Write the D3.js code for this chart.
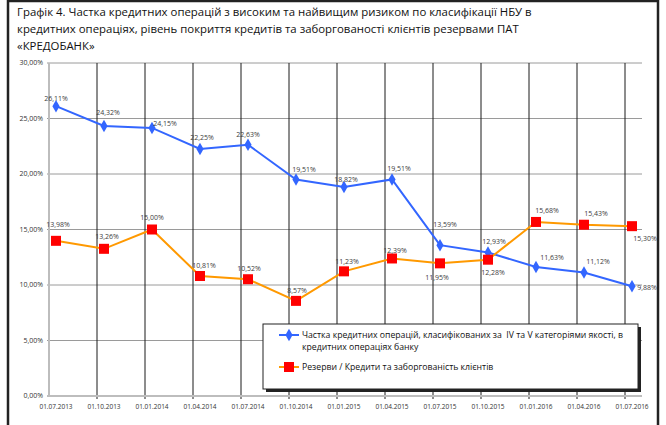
<!DOCTYPE html>
<html>
<head>
<meta charset="utf-8">
<title>Графік 4</title>
<script src="https://cdn.jsdelivr.net/npm/d3@7"></script>
<style>
    body { margin: 0; background: #fff; }
    svg text { font-family: "Open Sans", Arial, sans-serif; }
    .legend-text { white-space: pre; }
</style>
</head>
<body>
<script>
    // data
    var dates = ["01.07.2013", "01.10.2013", "01.01.2014", "01.04.2014", "01.07.2014", "01.10.2014",
        "01.01.2015", "01.04.2015", "01.07.2015", "01.10.2015", "01.01.2016", "01.04.2016", "01.07.2016"];
    var shareHighRisk = [26.11, 24.32, 24.15, 22.25, 22.63, 19.51, 18.82, 19.51, 13.59, 12.93, 11.63, 11.12, 9.88];
    var reserveCoverage = [13.98, 13.26, 15.00, 10.81, 10.52, 8.57, 11.23, 12.39, 11.95, 12.28, 15.68, 15.43, 15.30];
    var yTicks = [0, 5, 10, 15, 20, 25, 30];
    var titleLines = [
        "Графік 4. Частка кредитних операцій з високим та найвищим ризиком по класифікації НБУ в",
        "кредитних операціях, рівень покриття кредитів та заборгованості клієнтів резервами ПАТ",
        "«КРЕДОБАНК»"
    ];
    var seriesNames = [
        ["Частка кредитних операцій, класифікованих за  IV та V категоріями якості, в", "кредитних операціях банку"],
        ["Резерви / Кредити та заборгованість клієнтів"]
    ];

    // label placement around each point (dx, dy)
    var blueLabelShift = [[0,-8],[4,-13],[13,-4],[2,-11],[0,-10],[8,-10],[2,-8],[7,-11],[5,-21],[6,-11],[16,-9],[14,-11],[15,1]];
    var orangeLabelShift = [[2,-16],[3,-12],[0,-12],[4,-10],[1,-11],[1,-10],[3,-10],[3,-8],[-3,14],[5,13],[11,-11],[12,-11],[13,12]];

    var width = 666, height = 425;
    var blue = "#3366ff", orange = "#ff9900", red = "#ff0000";

    var svg = d3.select("body").append("svg")
        .attr("width", width)
        .attr("height", height);

    svg.append("rect").attr("width", width).attr("height", height).attr("fill", "#fff");

    // outer frame
    svg.append("rect")
        .attr("x", 8).attr("y", 1)
        .attr("width", 650).attr("height", 440)
        .attr("fill", "none").attr("stroke", "#222").attr("stroke-width", 2.5);

    svg.append("g").selectAll("text")
        .data(titleLines)
        .enter().append("text")
        .attr("x", 17)
        .attr("y", function (d, i) { return 16 + i * 17; })
        .attr("font-size", 11.4)
        .attr("fill", "#111")
        .text(function (d) { return d; });

    var x = d3.scaleLinear().domain([0, dates.length - 1]).range([56, 632]);
    var y = d3.scaleLinear().domain([0, 30]).range([396, 63]);
    var gridShift = 7;
    var plotLeft = x(0) - gridShift, plotRight = 642;

    var fmt = function (v) { return d3.format(".2f")(v).replace(".", ",") + "%"; };

    // horizontal gridlines
    svg.append("g").selectAll("line")
        .data(yTicks.slice(1))
        .enter().append("line")
        .attr("x1", plotLeft - 2).attr("x2", plotRight)
        .attr("y1", function (d) { return y(d); })
        .attr("y2", function (d) { return y(d); })
        .attr("stroke", "#9a9a9a").attr("stroke-width", 1);

    // vertical gridlines
    svg.append("g").selectAll("line")
        .data(dates.slice(1))
        .enter().append("line")
        .attr("x1", function (d, i) { return x(i + 1) - gridShift; })
        .attr("x2", function (d, i) { return x(i + 1) - gridShift; })
        .attr("y1", y(30)).attr("y2", y(0) + 3)
        .attr("stroke", "#1a1a1a").attr("stroke-width", 1);

    // axes lines
    svg.append("line")
        .attr("x1", plotLeft).attr("x2", plotLeft)
        .attr("y1", y(30)).attr("y2", y(0))
        .attr("stroke", "#bdbdbd").attr("stroke-width", 2);
    svg.append("line")
        .attr("x1", plotLeft - 2).attr("x2", plotRight)
        .attr("y1", y(0)).attr("y2", y(0))
        .attr("stroke", "#bdbdbd").attr("stroke-width", 2);

    svg.append("g").selectAll("text")
        .data(yTicks)
        .enter().append("text")
        .attr("x", plotLeft - 6)
        .attr("y", function (d) { return y(d); })
        .attr("dy", "0.35em")
        .attr("text-anchor", "end")
        .attr("font-size", 7)
        .attr("fill", "#333")
        .text(function (d) { return d3.format(".2f")(d).replace(".", ",") + "%"; });

    svg.append("g").selectAll("text")
        .data(dates)
        .enter().append("text")
        .attr("x", function (d, i) { return x(i); })
        .attr("y", 409)
        .attr("text-anchor", "middle")
        .attr("font-size", 6.5)
        .attr("fill", "#333")
        .text(function (d) { return d; });

    var line = d3.line()
        .x(function (d, i) { return x(i); })
        .y(function (d) { return y(d); });

    // blue series
    svg.append("path")
        .datum(shareHighRisk)
        .attr("d", line)
        .attr("fill", "none").attr("stroke", blue).attr("stroke-width", 2);

    var diamond = d3.symbol().type(d3.symbolDiamond).size(45);
    svg.append("g").selectAll("path")
        .data(shareHighRisk)
        .enter().append("path")
        .attr("d", diamond)
        .attr("transform", function (d, i) { return "translate(" + x(i) + "," + y(d) + ")"; })
        .attr("fill", blue);

    // orange series
    svg.append("path")
        .datum(reserveCoverage)
        .attr("d", line)
        .attr("fill", "none").attr("stroke", orange).attr("stroke-width", 2);

    svg.append("g").selectAll("rect")
        .data(reserveCoverage)
        .enter().append("rect")
        .attr("x", function (d, i) { return x(i) - 5; })
        .attr("y", function (d) { return y(d) - 5; })
        .attr("width", 10).attr("height", 10)
        .attr("fill", red);

    // data labels
    function labels(values, shift) {
        svg.append("g").selectAll("text")
            .data(values)
            .enter().append("text")
            .attr("x", function (d, i) { return x(i) + shift[i][0]; })
            .attr("y", function (d, i) { return y(d) + shift[i][1]; })
            .attr("dy", "0.35em")
            .attr("text-anchor", "middle")
            .attr("font-size", 7)
            .attr("fill", "#404040")
            .text(fmt);
    }
    labels(shareHighRisk, blueLabelShift);
    labels(reserveCoverage, orangeLabelShift);

    // legend
    var legend = svg.append("g").attr("transform", "translate(263,324)");
    legend.append("rect")
        .attr("x", 3).attr("y", 3).attr("width", 375).attr("height", 65)
        .attr("fill", "#222");
    legend.append("rect")
        .attr("width", 375).attr("height", 65)
        .attr("fill", "#fff").attr("stroke", "#222").attr("stroke-width", 1);

    var entries = legend.selectAll("g.entry")
        .data(seriesNames)
        .enter().append("g")
        .attr("class", "entry")
        .attr("transform", function (d, i) { return "translate(0," + (i === 0 ? 11 : 43) + ")"; });

    entries.append("line")
        .attr("x1", 16).attr("x2", 36)
        .attr("stroke", function (d, i) { return i === 0 ? blue : orange; })
        .attr("stroke-width", 2);
    entries.each(function (d, i) {
        var g = d3.select(this);
        if (i === 0) {
            g.append("path").attr("d", diamond).attr("transform", "translate(26,0)").attr("fill", blue);
        } else {
            g.append("rect").attr("x", 21).attr("y", -5).attr("width", 10).attr("height", 10).attr("fill", red);
        }
    });
    entries.selectAll("text")
        .data(function (d) { return d; })
        .enter().append("text")
        .attr("class", "legend-text")
        .attr("x", 39)
        .attr("y", function (d, j) { return j * 12; })
        .attr("dy", "0.35em")
        .attr("font-size", 8.7)
        .attr("fill", "#111")
        .text(function (d) { return d; });
</script>
</body>
</html>
